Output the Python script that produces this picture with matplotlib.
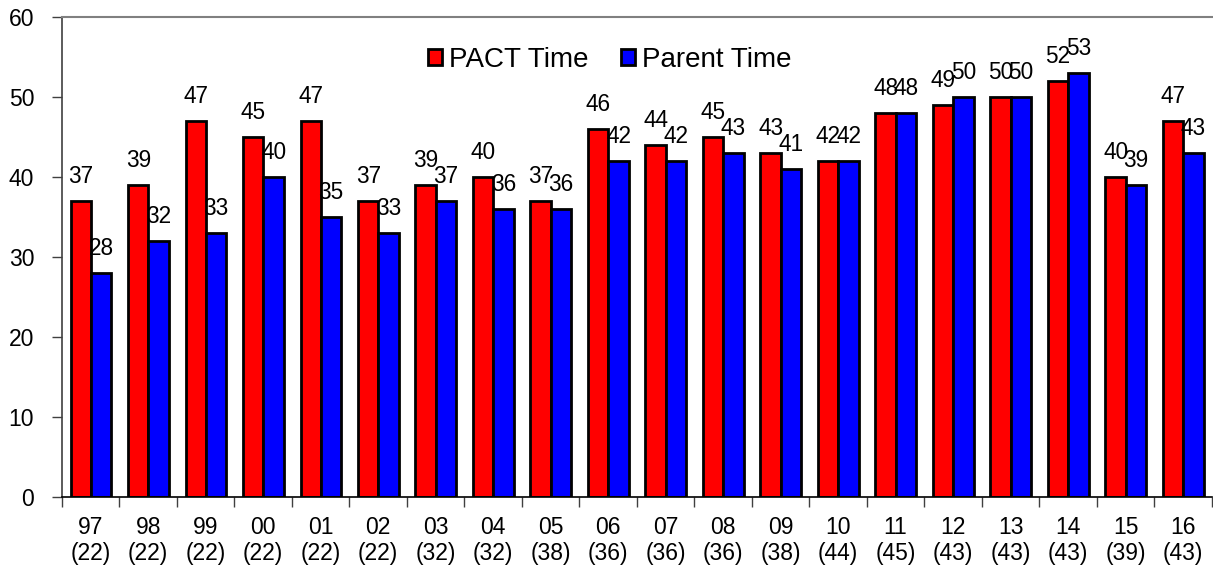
import numpy as np
import matplotlib.pyplot as plt

years = ["97", "98", "99", "00", "01", "02", "03", "04", "05", "06",
         "07", "08", "09", "10", "11", "12", "13", "14", "15", "16"]
counts = [22, 22, 22, 22, 22, 22, 32, 32, 38, 36,
          36, 36, 38, 44, 45, 43, 43, 43, 39, 43]
pact_time = [37, 39, 47, 45, 47, 37, 39, 40, 37, 46,
             44, 45, 43, 42, 48, 49, 50, 52, 40, 47]
parent_time = [28, 32, 33, 40, 35, 33, 37, 36, 36, 42,
               42, 43, 41, 42, 48, 50, 50, 53, 39, 43]

plt.rcParams['font.family'] = ['Liberation Sans', 'DejaVu Sans']

fig = plt.figure(figsize=(12.13, 5.69), dpi=100)
ax = fig.add_axes([0.0511, 0.1265, 0.9479, 0.8435])

x = np.arange(len(years))
w = 0.355
b1 = ax.bar(x - w / 2 + 0.004, pact_time, w, color='#ff0000', edgecolor='black', linewidth=2, label='PACT Time')
b2 = ax.bar(x + w / 2 + 0.004, parent_time, w, color='#0000ff', edgecolor='black', linewidth=2, label='Parent Time')

# etiquetas de valores sobre las barras
for bars, vals in ((b1, pact_time), (b2, parent_time)):
    for r, v in zip(bars, vals):
        ax.annotate(str(v), (r.get_x() + r.get_width() / 2, v), xytext=(0, 13),
                    textcoords='offset points', ha='center', va='baseline', fontsize=16.3)

ax.set_xlim(-0.5, len(years) - 0.5)
ax.set_ylim(0, 60)
ax.set_yticks(range(0, 61, 10))
ax.tick_params(axis='y', labelsize=16.5, length=7, width=1, color='#404040', direction='out', pad=13)

# ticks mayores en los bordes de categoría, etiquetas en el centro
ax.set_xticks(np.arange(-0.5, len(years), 1))
ax.set_xticklabels([])
ax.set_xticks(x, minor=True)
ax.set_xticklabels([f"{y}\n({c})" for y, c in zip(years, counts)], minor=True, fontsize=16.5, linespacing=1.15)
ax.tick_params(axis='x', which='major', length=7, width=1, color='#404040', direction='out')
ax.tick_params(axis='x', which='minor', length=0, pad=14)

ax.spines['right'].set_visible(False)
ax.spines['top'].set_color('#808080')
ax.spines['top'].set_linewidth(1.5)
ax.spines['left'].set_color('#404040')
ax.spines['left'].set_linewidth(1.2)
ax.spines['bottom'].set_color('black')
ax.spines['bottom'].set_linewidth(1.2)

ax.legend(loc='center left', bbox_to_anchor=(0.353, 0.8946), bbox_transform=fig.transFigure,
          ncol=2, frameon=False, fontsize=20, handlelength=0.5, handleheight=0.5,
          handletextpad=0.26, columnspacing=1.15, borderpad=0, borderaxespad=0)

fig.savefig('out.png', dpi=100)
